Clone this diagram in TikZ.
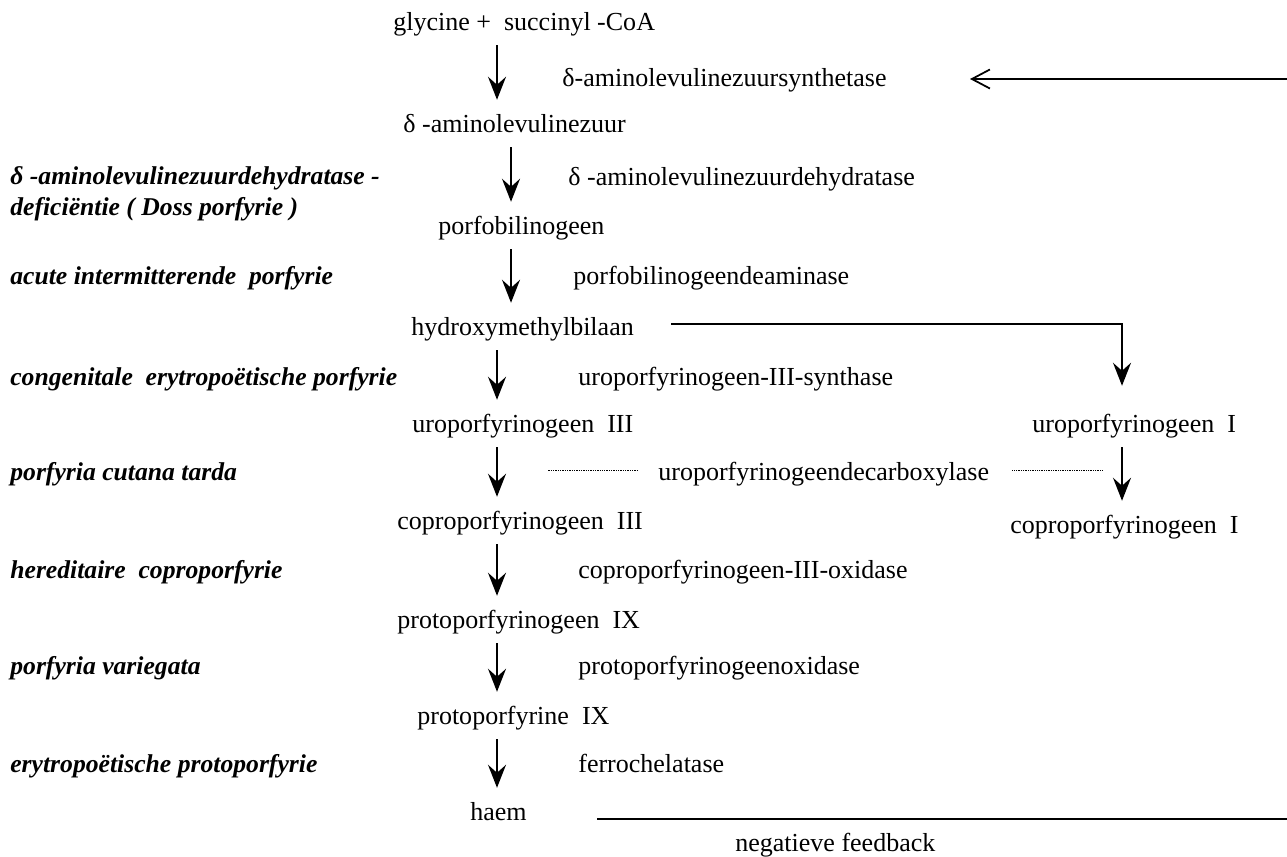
\documentclass[tikz,border=0pt]{standalone}
\usepackage{fontspec}
\setmainfont{Liberation Serif}
\usetikzlibrary{arrows.meta, positioning}

\begin{document}
\begin{tikzpicture}[x=0.02cm, y=-0.02cm,
  stof/.style={anchor=west, inner sep=0pt, yshift=-0.06cm, text height=10.4pt, text depth=3.7pt, font=\fontsize{14.8}{17}\selectfont},
  ziekte/.style={stof, font=\fontsize{14.6}{17}\selectfont\bfseries\itshape},
  pijl/.style={line width=1pt, -{Stealth[length=0.46cm, width=0.36cm, inset=0.16cm]}, shorten <=0.15cm, shorten >=0.29cm},
  terug/.style={line width=1pt, -{Straight Barb[length=0.36cm, width=0.38cm]}},
  stippel/.style={line width=0.5pt, dash pattern=on 0.5pt off 0.5pt}]
\useasboundingbox (0,0) rectangle (1287,856);

% kolommen voor de pijlen
\coordinate (k1) at (497,0);
\coordinate (k2) at (511,0);
\coordinate (k3) at (1122,0);

% stoffen
\node[stof] (glyc) at (393,22) {glycine +~ succinyl -CoA};
\node[stof] (ala) at (403,124) {δ -aminolevulinezuur};
\node[stof] (pbg) at (438,226) {porfobilinogeen};
\node[stof] (hmb) at (411,327) {hydroxymethylbilaan};
\node[stof] (uro3) at (412,424) {uroporfyrinogeen~ III};
\node[stof] (copro3) at (397,521) {coproporfyrinogeen~ III};
\node[stof] (proto9) at (397,620) {protoporfyrinogeen~ IX};
\node[stof] (pp9) at (417,716) {protoporfyrine~ IX};
\node[stof] (haem) at (470,812) {haem};
\node[stof] (uro1) at (1032,424) {uroporfyrinogeen~ I};
\node[stof] (copro1) at (1010,525) {coproporfyrinogeen~ I};

% enzymen
\node[stof] (alas) at (562,78) {δ-aminolevulinezuursynthetase};
\node[stof] (alad) at (568,177) {δ -aminolevulinezuurdehydratase};
\node[stof] (pbgd) at (573,276) {porfobilinogeendeaminase};
\node[stof] (uros) at (578,377) {uroporfyrinogeen-III-synthase};
\node[stof] (urod) at (658,472) {uroporfyrinogeendecarboxylase};
\node[stof] (cpo) at (578,570) {coproporfyrinogeen-III-oxidase};
\node[stof] (ppo) at (578,666) {protoporfyrinogeenoxidase};
\node[stof] (fech) at (578,764) {ferrochelatase};
\node[stof] (fb) at (735,843) {negatieve feedback};

% ziektebeelden
\node[ziekte] (adp1) at (10,176) {δ -aminolevulinezuurdehydratase -};
\node[ziekte] (adp2) at (10,207) {deficiëntie ( Doss porfyrie )};
\node[ziekte] (aip) at (10,276) {acute intermitterende~ porfyrie};
\node[ziekte] (cep) at (10,377) {congenitale~ erytropoëtische porfyrie};
\node[ziekte] (pct) at (10,472) {porfyria cutana tarda};
\node[ziekte] (hcp) at (10,570) {hereditaire~ coproporfyrie};
\node[ziekte] (vp) at (10,666) {porfyria variegata};
\node[ziekte] (epp) at (10,764) {erytropoëtische protoporfyrie};

% hoofdroute
\draw[pijl] (glyc.south -| k1) -- (ala.north -| k1);
\draw[pijl] (ala.south -| k2) -- (pbg.north -| k2);
\draw[pijl] (pbg.south -| k2) -- (hmb.north -| k2);
\foreach \a/\b in {hmb/uro3, uro3/copro3, copro3/proto9, proto9/pp9, pp9/haem}
  \draw[pijl] (\a.south -| k1) -- (\b.north -| k1);

% zijroute
\draw[pijl, shorten <=0pt, shorten >=0.57cm] ([xshift=0.74cm, yshift=0.12cm]hmb.east) -| (uro1.north -| k3);
\draw[pijl] (uro1.south -| k3) -- (copro1.north -| k3);
\draw[stippel] ([xshift=-0.4cm, yshift=0.1cm]urod.west) -- ([xshift=-2.2cm, yshift=0.1cm]urod.west);
\draw[stippel] ([xshift=0.46cm, yshift=0.1cm]urod.east) -- ([xshift=2.26cm, yshift=0.1cm]urod.east);

% terugkoppeling
\coordinate (rand1) at (1287,79);
\coordinate (punt) at (970,79);
\coordinate (start) at (597,819);
\coordinate (rand2) at (1287,819);
\draw[terug] (rand1) -- (punt);
\draw[line width=1pt] (start) -- (rand2);
\end{tikzpicture}
\end{document}
